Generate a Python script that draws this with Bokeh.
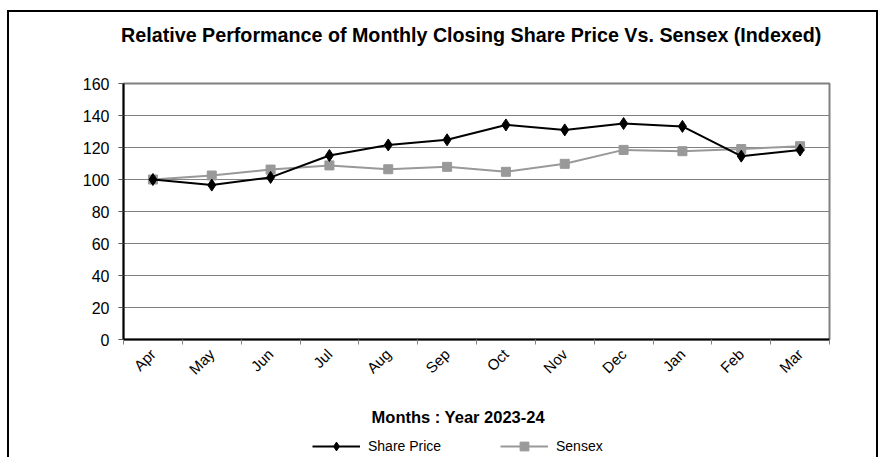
from bokeh.plotting import figure
from bokeh.models import (FixedTicker, Legend, LegendItem, Range1d, LinearAxis)
from bokeh.layouts import column
from bokeh.embed import file_html
from bokeh.resources import INLINE

months = ["Apr", "May", "Jun", "Jul", "Aug", "Sep", "Oct", "Nov", "Dec", "Jan", "Feb", "Mar"]
share_price = [100, 96.5, 101.3, 115, 121.6, 124.8, 134.1, 131, 135, 133.2, 114.6, 118.4]
sensex = [100, 102.5, 106.2, 108.8, 106.4, 107.9, 104.8, 109.8, 118.5, 117.7, 119, 120.8]
y_ticks = [0, 20, 40, 60, 80, 100, 120, 140, 160]
title_text = "Relative Performance of Monthly Closing Share Price Vs. Sensex (Indexed)"
x_title = "Months : Year 2023-24"
series_names = ["Share Price", "Sensex"]

x = [i + 0.5 for i in range(len(months))]
boundaries = list(range(len(months) + 1))
NAN = float("nan")

FONT = "Liberation Sans"
W = 867

p = figure(width=W, height=420, output_backend="svg", toolbar_location=None,
           x_range=Range1d(0, len(months)), y_range=Range1d(0, 160),
           min_border_left=114, min_border_right=47, min_border_top=71,
           min_border_bottom=93)

p.outline_line_color = "#808080"
p.outline_line_width = 2


def text_axis(text, size, standoff, at):
    """A bare axis whose single tick label carries a text (title / axis title)."""
    return LinearAxis(ticker=FixedTicker(ticks=[at], minor_ticks=[]), axis_line_color=None,
                      major_tick_out=0, major_tick_in=0, minor_tick_out=0,
                      minor_tick_in=0, major_tick_line_color=None,
                      minor_tick_line_color=None,
                      major_label_overrides={at: text},
                      major_label_standoff=standoff,
                      major_label_text_font=FONT, major_label_text_font_size=size,
                      major_label_text_font_style="bold", major_label_text_color="black")


# chart title
p.add_layout(text_axis(title_text, "19.7px", 38, 5.91), "above")

# x axis
xa = p.below[0]
xa.ticker = FixedTicker(ticks=x, minor_ticks=boundaries)
xa.major_label_overrides = {xx: m for xx, m in zip(x, months)}
xa.major_tick_line_color = None
xa.minor_tick_in = 0
xa.minor_tick_out = 5
xa.minor_tick_line_color = "#808080"
xa.major_label_orientation = 0.785398
xa.major_label_text_font = FONT
xa.major_label_text_font_size = "15px"
xa.major_label_text_color = "black"
xa.major_label_standoff = 6
xa.axis_line_color = "black"
xa.axis_line_width = 2
# x axis title
p.add_layout(text_axis(x_title, "16.5px", 21, 5.69), "below")

# y axis
ya = p.left[0]
ya.ticker = FixedTicker(ticks=y_ticks)
ya.minor_tick_line_color = None
ya.major_tick_in = 0
ya.major_tick_out = 5
ya.major_tick_line_color = "#555555"
ya.major_label_text_font = FONT
ya.major_label_text_font_size = "16px"
ya.major_label_text_color = "black"
ya.major_label_standoff = 9
ya.axis_line_color = "black"
ya.axis_line_width = 2

p.xgrid.grid_line_color = None
p.ygrid.ticker = FixedTicker(ticks=y_ticks)
p.ygrid.grid_line_color = "#808080"
p.ygrid.grid_line_width = 1

# series
p.line(x, sensex, line_color="#999999", line_width=2)
p.scatter(x, sensex, marker="square", size=9, fill_color="#999999", line_color="#999999")
p.line(x, share_price, line_color="black", line_width=2)
p.scatter(x, share_price, marker="diamond", size=12, fill_color="black", line_color="black")

# legend strip below the chart (legend-only proxy renderers, nothing plotted)
lp = figure(width=W, height=25, output_backend="svg", toolbar_location=None,
            x_range=Range1d(0, 1), y_range=Range1d(0, 1),
            x_axis_type=None, y_axis_type=None,
            min_border_left=0, min_border_right=0, min_border_top=0, min_border_bottom=0)
lp.grid.visible = False
lp.outline_line_color = None
l_sp = lp.line([NAN], [NAN], line_color="black", line_width=2)
m_sp = lp.scatter([NAN], [NAN], marker="diamond", size=12, fill_color="black",
                  line_color="black")
l_sx = lp.line([NAN], [NAN], line_color="#999999", line_width=2)
m_sx = lp.scatter([NAN], [NAN], marker="square", size=9, fill_color="#999999",
                  line_color="#999999")

legend = Legend(items=[LegendItem(label=series_names[0], renderers=[l_sp, m_sp]),
                       LegendItem(label=series_names[1], renderers=[l_sx, m_sx])],
                orientation="horizontal", location=(189, 0),
                glyph_width=48, glyph_height=22, label_height=14, label_width=84,
                label_standoff=8, spacing=48,
                padding=0, margin=0, border_line_color=None,
                background_fill_alpha=0, label_text_font=FONT,
                label_text_font_size="14px", label_text_color="black")
lp.add_layout(legend, "center")

layout = column(p, lp, spacing=0)
layout.styles = {"border-top": "2px solid black", "border-left": "2px solid black",
                 "border-right": "2px solid black", "margin-top": "10px",
                 "margin-left": "7px"}

open("out.html", "w").write(file_html(layout, INLINE))
